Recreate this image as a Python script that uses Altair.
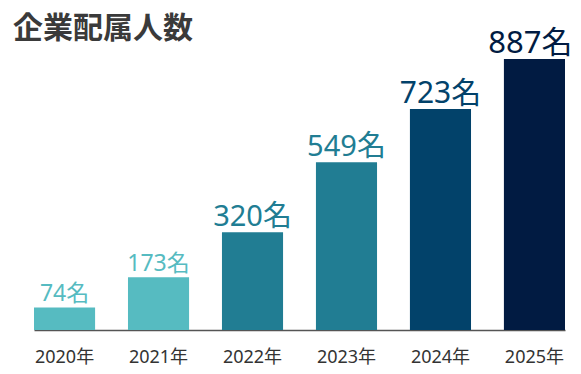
import altair as alt
import pandas as pd

years = ["2020年", "2021年", "2022年", "2023年", "2024年", "2025年"]
counts = [74, 173, 320, 549, 723, 887]
labels = ["74名", "173名", "320名", "549名", "723名", "887名"]

bar_colors = ["#56BBC1", "#56BBC1", "#217D93", "#217D93", "#02426A", "#011B42"]
label_sizes = [23, 23, 29, 29, 30, 31]
label_dx = [0, 0, 0, 0, 0, -4]

df = pd.DataFrame({"year": years, "count": counts, "label": labels})

FONT = "Noto Sans, Noto Sans CJK JP"

x = alt.X("year:N", sort=years, title=None,
          scale=alt.Scale(paddingInner=0.35, paddingOuter=0),
          axis=alt.Axis(labelAngle=0, ticks=False, domainColor="#555555", domainWidth=1.5,
                        labelFontSize=18, labelColor="#333333", labelPadding=18,
                        labelFont=FONT, grid=False))
y = alt.Y("count:Q", title=None, scale=alt.Scale(domain=[0, 887], nice=False), axis=None)
color = alt.Color("year:N", scale=alt.Scale(domain=years, range=bar_colors), legend=None)

bars = alt.Chart(df).mark_bar().encode(x=x, y=y, color=color)

layers = [bars]
for yr, fs, ddx in zip(years, label_sizes, label_dx):
    layers.append(
        alt.Chart(df).transform_filter(alt.datum.year == yr)
        .mark_text(baseline="alphabetic", dy=-6, dx=ddx, font=FONT, fontSize=fs)
        .encode(x=alt.X("year:N", sort=years), y="count:Q", text="label:N", color=color)
    )

chart = alt.layer(*layers).properties(
    width=531, height=271,
    title=alt.TitleParams("企業配属人数", anchor="start", frame="group", dx=-21, dy=30,
                          fontSize=30, font="Noto Sans CJK JP", fontWeight="bold",
                          color="#3A3A3A", offset=14),
    autosize=alt.AutoSizeParams(type="none"),
    padding={"left": 26, "top": 51, "right": 8, "bottom": 36},
).configure_view(stroke=None)

chart.save("out.html", embed_options={"renderer": "svg", "actions": False})
